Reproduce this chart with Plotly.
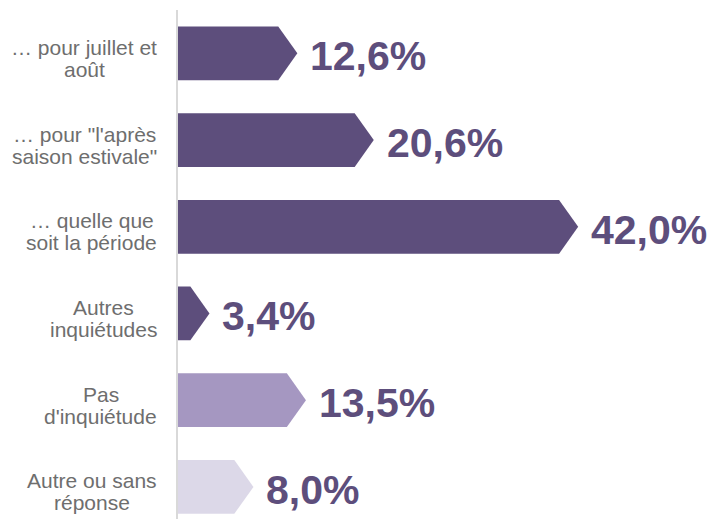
import plotly.graph_objects as go

category_lines = [["… pour juillet et", "août"],
                  ["… pour \"l'après", "saison estivale\""],
                  ["… quelle que", "soit la période"],
                  ["Autres", "inquiétudes"],
                  ["Pas", "d'inquiétude"],
                  ["Autre ou sans", "réponse"]]
values = [12.6, 20.6, 42.0, 3.4, 13.5, 8.0]
value_labels = ["12,6%", "20,6%", "42,0%", "3,4%", "13,5%", "8,0%"]
colors = ["#5d4e7c", "#5d4e7c", "#5d4e7c", "#5d4e7c", "#a597c1", "#dcd8e8"]

# Arial / Liberation Sans advance widths (per 1000 em) for centring the two-line labels
W = {' ': 278, 'a': 556, 'b': 556, 'c': 500, 'd': 556, 'e': 556, 'f': 278, 'g': 556, 'h': 556,
     'i': 222, 'j': 222, 'k': 500, 'l': 222, 'm': 833, 'n': 556, 'o': 556, 'p': 556, 'q': 556,
     'r': 333, 's': 500, 't': 278, 'u': 556, 'v': 500, 'w': 722, 'x': 500, 'y': 500, 'z': 500,
     'A': 667, 'P': 667, '"': 355, "'": 191, '…': 1000, 'é': 556, 'è': 556, 'û': 556}

LABEL_SIZE = 21
def text_w(s):
    return sum(W.get(ch, 556) for ch in s) / 1000 * LABEL_SIZE

tip = 2.0
half = 0.31
RIGHT = -20   # px from plot left edge to label right edge
LINE = 22     # px between label lines
fig = go.Figure()
for i, (v, c) in enumerate(zip(values, colors)):
    xs = [0, max(v - tip, 0), v, max(v - tip, 0), 0, 0]
    ys = [i - half, i - half, i, i + half, i + half, i - half]
    fig.add_trace(go.Scatter(x=xs, y=ys, fill="toself", fillcolor=c, mode="lines",
                             line=dict(width=0, color=c), hoverinfo="skip", showlegend=False))
    fig.add_annotation(x=v, y=i, xref="x", yref="y", text=value_labels[i], showarrow=False,
                       xanchor="left", yanchor="middle", xshift=11, yshift=-3,
                       font=dict(family="Arial, Liberation Sans", size=41, color="#5d4e7c", weight="bold"))
    lines = category_lines[i]
    bw = max(text_w(s) for s in lines)
    cx = RIGHT - bw / 2
    for k, s in enumerate(lines):
        fig.add_annotation(x=0, y=i, xref="paper", yref="y", text=s, showarrow=False,
                           xanchor="center", yanchor="middle", xshift=cx,
                           yshift=(LINE / 2 if k == 0 else -LINE / 2) - 5,
                           font=dict(family="Arial, Liberation Sans", size=LABEL_SIZE, color="#6e6e6e"))

fig.add_shape(type="line", xref="paper", yref="paper", x0=0, x1=0, y0=0, y1=1,
              line=dict(color="#d9d9d9", width=2))

fig.update_layout(
    width=710, height=519,
    margin=dict(l=177, r=0, t=10, b=0),
    plot_bgcolor="white", paper_bgcolor="white",
    xaxis=dict(range=[0, 55.8], visible=False, fixedrange=True),
    yaxis=dict(range=[5.37, -0.5], visible=False, fixedrange=True),
)
fig.write_html("out.html", config={"displayModeBar": False},
               post_script="document.body.style.margin='0px';")
